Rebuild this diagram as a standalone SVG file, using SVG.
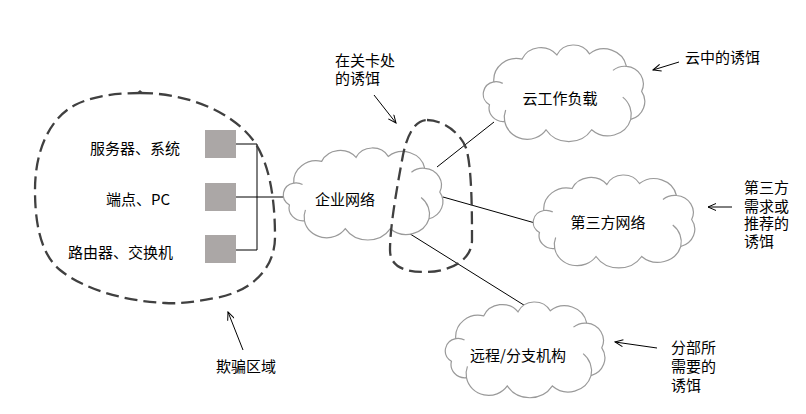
<svg xmlns="http://www.w3.org/2000/svg" width="806" height="414" viewBox="0 0 806 414">
<style>
text{font-family:"Noto Sans CJK SC","Microsoft YaHei","Noto Sans",sans-serif;font-size:15px;fill:#000}
.ln{stroke:#000;stroke-width:1;fill:none}
.ar{stroke:#000;stroke-width:1;fill:none;marker-end:url(#arr)}
.dash{stroke:#404040;stroke-width:2.3;fill:none;stroke-dasharray:13 6}
.cl{fill:#fff;stroke:#9a9a9a;stroke-width:1.2;vector-effect:non-scaling-stroke}
.ci{fill:none;stroke:#9a9a9a;stroke-width:1.2;vector-effect:non-scaling-stroke}
.sq{fill:#aba7a6}
</style>
<defs>
<marker id="arr" markerWidth="10" markerHeight="8" refX="9" refY="4" orient="auto" markerUnits="userSpaceOnUse">
<path d="M1,0.5 L9,4 L1,7.5" fill="none" stroke="#000" stroke-width="1"/>
</marker>
<g id="cloud">
<path class="cl" d="M14,36 A21,21 0 0 1 40,14 A19,19 0 0 1 72,10 A17,17 0 0 1 102,9 A21,21 0 0 1 136,21 A17,17 0 0 1 150,45 A18,18 0 0 1 140,72 A22,22 0 0 1 104,82 A25,25 0 0 1 62,82 A21,21 0 0 1 24,74 A13,13 0 0 1 10,58 A12,12 0 0 1 14,36 Z"/>
<path class="ci" d="M132.6,50.6 A22,22 0 0 1 140,72"/>
<path class="ci" d="M123.6,24.9 A17,17 0 0 1 136,21"/>
<path class="ci" d="M14,36 A12,12 0 0 1 22.2,37.4"/>
<path class="ci" d="M24,74 A21,21 0 0 1 24.9,63"/>
</g>
</defs>
<rect width="806" height="414" fill="#fff"/>

<g id="connectors">
<path class="ln" d="M236,144 H257 V250 H236"/>
<path class="ln" d="M236,197 H285"/>
<path class="ln" d="M437,167 L494,122"/>
<path class="ln" d="M443,197 L535,223"/>
<path class="ln" d="M407,232 L527,307"/>
<path class="ar" d="M374,95 L396,123"/>
<path class="ar" d="M679,62 L653,70"/>
<path class="ar" d="M732,207 L708,207"/>
<path class="ar" d="M657,348 L615,342"/>
<path class="ar" d="M243,350 L228,312"/>
</g>

<g id="deception-zone">
<path class="dash" d="M140,93 C185,93 230,110 253,140 C270,163 275,200 275,237 C275,270 250,292 215,298 C195,302 180,304 165,303 C125,301 85,290 60,270 C38,252 35,215 35,190 C35,150 50,118 75,105 C95,95 120,93 140,93 Z"/>
<path d="M136,93.5 L140,90 L144,93.5 Z" fill="#404040"/>
<text x="216" y="372">欺骗区域</text>
</g>

<g id="server">
<rect class="sq" x="205" y="130" width="31" height="28"/>
<text x="180" y="154" text-anchor="end">服务器、系统</text>
</g>
<g id="endpoint">
<rect class="sq" x="205" y="183" width="31" height="28"/>
<text x="170" y="205" text-anchor="end">端点、PC</text>
</g>
<g id="router">
<rect class="sq" x="205" y="235" width="31" height="28"/>
<text x="173" y="258" text-anchor="end">路由器、交换机</text>
</g>

<g id="enterprise">
<use href="#cloud" transform="translate(278.7,147.5) scale(1.074,0.99)"/>
<text x="345" y="205" text-anchor="middle">企业网络</text>
</g>

<g id="gateway">
<path class="dash" d="M427,120 C442,120 460,132 466,148 C472,166 472,215 472,240 C472,262 447,272 425,272 C405,272 390,267 390,250 C390,225 398,182 403,155 C407,135 415,120 427,120 Z"/>
<text x="335" y="66">在关卡处</text>
<text x="335" y="84">的诱饵</text>
</g>

<g id="cloud-workload">
<use href="#cloud" transform="translate(478.6,44.5) scale(1.087,1.04)"/>
<text x="560" y="104" text-anchor="middle">云工作负载</text>
<text x="685" y="63">云中的诱饵</text>
</g>

<g id="third-party">
<use href="#cloud" transform="translate(528.6,174.5) scale(1.087,1.0)"/>
<text x="608" y="228" text-anchor="middle">第三方网络</text>
<text x="744" y="193">第三方</text>
<text x="744" y="212">需求或</text>
<text x="744" y="229">推荐的</text>
<text x="744" y="247">诱饵</text>
</g>

<g id="branch">
<use href="#cloud" transform="translate(440.7,301.5) scale(1.074,1.03)"/>
<text x="518" y="361" text-anchor="middle">远程/分支机构</text>
<text x="671" y="353">分部所</text>
<text x="671" y="372">需要的</text>
<text x="671" y="391">诱饵</text>
</g>
</svg>
